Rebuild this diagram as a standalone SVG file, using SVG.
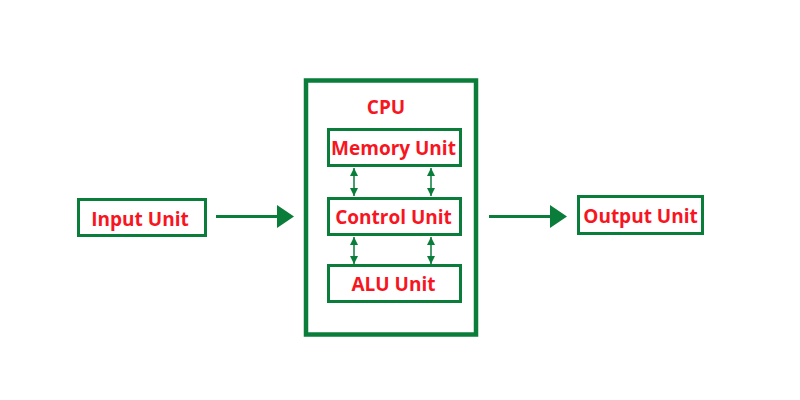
<svg xmlns="http://www.w3.org/2000/svg" width="800" height="400" viewBox="0 0 800 400">
<defs>
<style>
.box{fill:#fff;stroke:#0a7d3a;stroke-width:3}
.cpu{fill:#fff;stroke:#0a7d3a;stroke-width:4.5}
.lbl{font-family:"Open Sans","Liberation Sans",sans-serif;font-weight:bold;font-size:19px;fill:#f7151f;text-anchor:middle}
.ln{stroke:#0a7d3a;fill:none}
</style>
<marker id="sm" viewBox="0 0 10 10" refX="10" refY="5" markerWidth="8" markerHeight="8" markerUnits="userSpaceOnUse" orient="auto-start-reverse"><path d="M0,0 L10,5 L0,10 z" fill="#0a7d3a"/></marker>
</defs>
<rect width="800" height="400" fill="#fff"/>
<g id="cpu">
<rect class="cpu" x="306" y="80.5" width="170" height="254"/>
<text class="lbl" x="386" y="114">CPU</text>
</g>
<g id="input">
<rect class="box" x="78.5" y="199.5" width="127" height="36"/>
<text class="lbl" x="140" y="226">Input Unit</text>
</g>
<g id="memory">
<rect class="box" x="328.5" y="129.5" width="132" height="36"/>
<text class="lbl" x="393.5" y="155">Memory Unit</text>
</g>
<g id="control">
<rect class="box" x="328.5" y="198.5" width="132" height="36"/>
<text class="lbl" x="393.5" y="224">Control Unit</text>
</g>
<g id="alu">
<rect class="box" x="328.5" y="265.5" width="132" height="36"/>
<text class="lbl" x="393.5" y="291">ALU Unit</text>
</g>
<g id="output">
<rect class="box" x="578.5" y="196.5" width="124" height="37"/>
<text class="lbl" x="640.5" y="223">Output Unit</text>
</g>
<g id="connectors">
<line class="ln" stroke-width="3" x1="216" y1="216.5" x2="277" y2="216.5"/>
<path d="M277,205 L294,216.5 L277,228 z" fill="#0a7d3a"/>
<line class="ln" stroke-width="3" x1="489" y1="216.5" x2="550" y2="216.5"/>
<path d="M550,205 L567,216.5 L550,228 z" fill="#0a7d3a"/>
<line class="ln" stroke-width="1.5" x1="354" y1="168" x2="354" y2="196" marker-start="url(#sm)" marker-end="url(#sm)"/>
<line class="ln" stroke-width="1.5" x1="431" y1="168" x2="431" y2="196" marker-start="url(#sm)" marker-end="url(#sm)"/>
<line class="ln" stroke-width="1.5" x1="354" y1="237" x2="354" y2="264" marker-start="url(#sm)" marker-end="url(#sm)"/>
<line class="ln" stroke-width="1.5" x1="431" y1="237" x2="431" y2="264" marker-start="url(#sm)" marker-end="url(#sm)"/>
</g>
</svg>
